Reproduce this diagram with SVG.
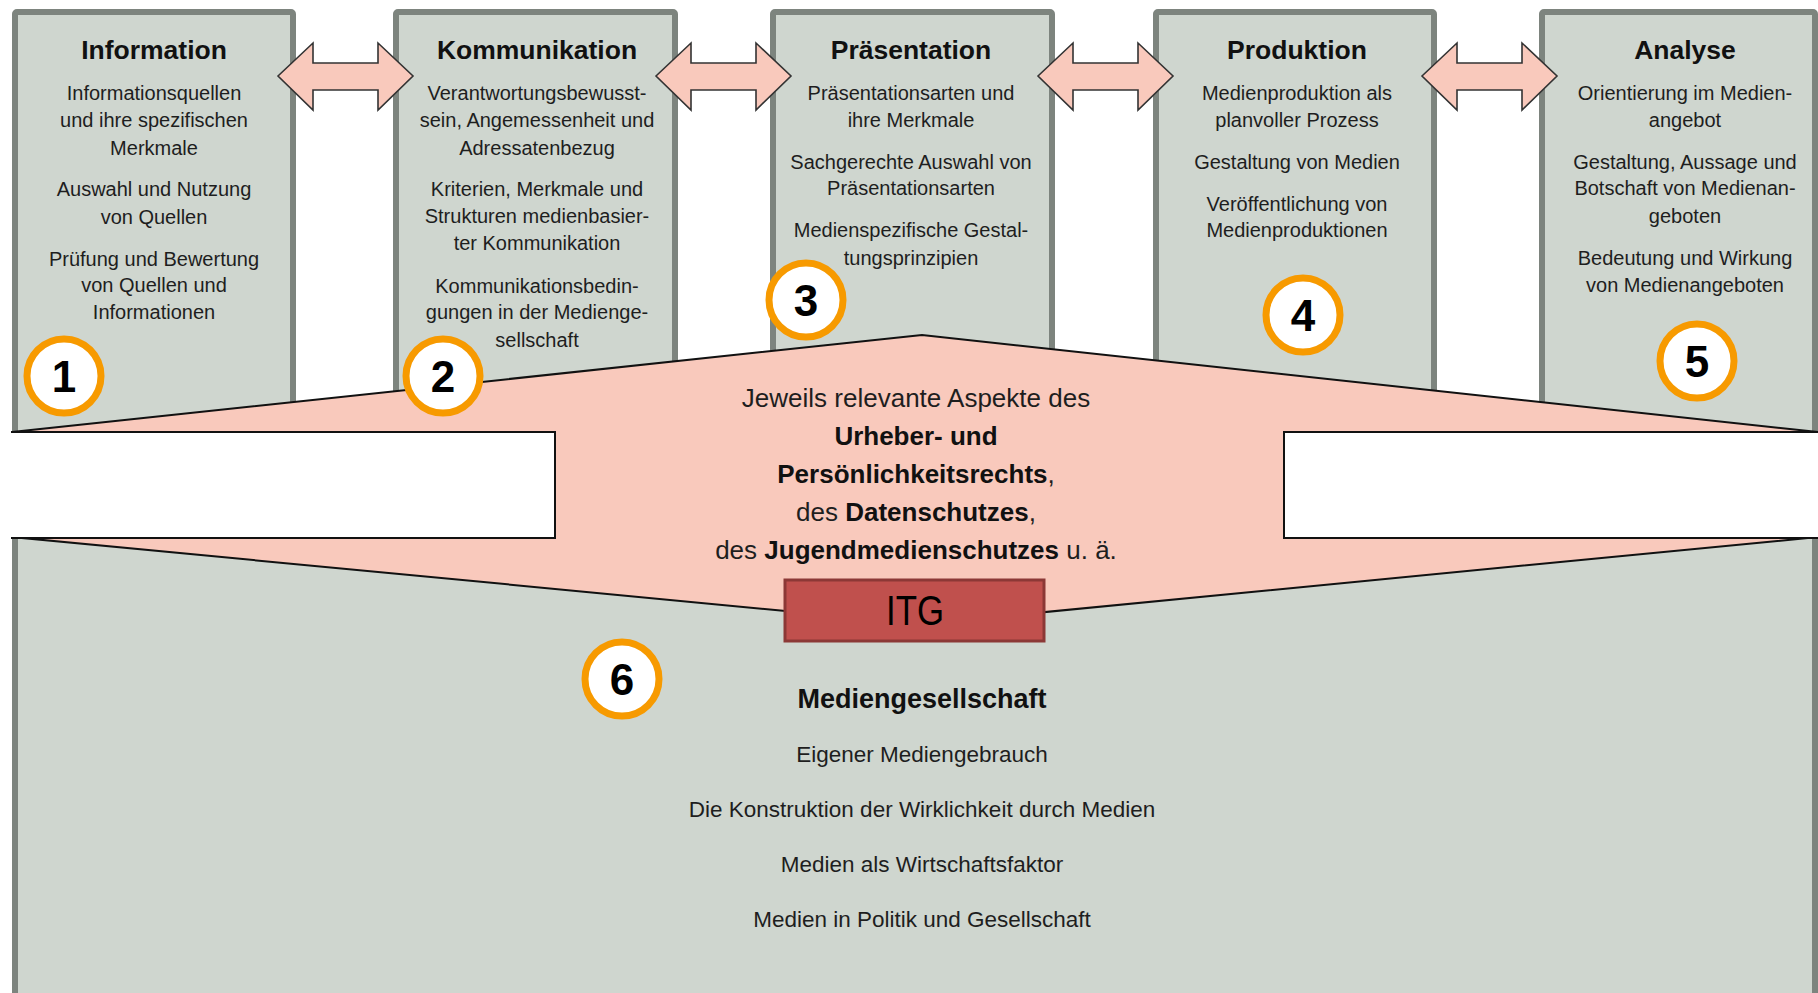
<svg xmlns="http://www.w3.org/2000/svg" xmlns:xlink="http://www.w3.org/1999/xlink" width="1818" height="993" viewBox="0 0 1818 993">
<defs>
<style>
.box{fill:#cfd6cf;stroke:#7d847e;stroke-width:6}
.t{font-family:"Liberation Sans",Arial,sans-serif;fill:#1e1e1e;text-anchor:middle}
.title{font-size:26.5px;font-weight:bold;fill:#111}
.body{font-size:20px}
.pinktxt{font-size:26px}
.bold{font-weight:bold;fill:#111}
.bottom{font-size:22.5px}
.pink{fill:#f9c9bc;stroke:#111;stroke-width:2;stroke-linejoin:miter}
.arrow{fill:#f9c9bc;stroke:#333;stroke-width:1.6;stroke-linejoin:miter}
.white{fill:#fff;stroke:none}
.edge{fill:none;stroke:#111;stroke-width:2}
.badge circle{fill:#fff;stroke:#f79a00;stroke-width:7}
.badge text{font-family:"Liberation Sans",Arial,sans-serif;font-size:44px;font-weight:bold;fill:#000;text-anchor:middle}
</style>
<polygon id="dbl" class="arrow" points="0,76 35,43 35,63 100,63 100,43 135,76 100,110 100,90 35,90 35,110"/>
</defs>
<rect width="1818" height="993" fill="#fff"/>

<g id="node-mediengesellschaft">
<rect class="box" x="15" y="534" width="1800" height="470"/>
<text class="t bold" x="922" y="708" font-size="27">Mediengesellschaft</text>
<text class="t bottom" x="922" y="762">Eigener Mediengebrauch</text>
<text class="t bottom" x="922" y="817">Die Konstruktion der Wirklichkeit durch Medien</text>
<text class="t bottom" x="922" y="872">Medien als Wirtschaftsfaktor</text>
<text class="t bottom" x="922" y="927">Medien in Politik und Gesellschaft</text>
</g>

<g id="node-information">
<rect class="box" x="15" y="12" width="278" height="426" rx="2"/>
<text class="t title" x="154" y="59">Information</text>
<text class="t body" x="154" y="100">Informationsquellen</text>
<text class="t body" x="154" y="127">und ihre spezifischen</text>
<text class="t body" x="154" y="155">Merkmale</text>
<text class="t body" x="154" y="196">Auswahl und Nutzung</text>
<text class="t body" x="154" y="224">von Quellen</text>
<text class="t body" x="154" y="266">Prüfung und Bewertung</text>
<text class="t body" x="154" y="292">von Quellen und</text>
<text class="t body" x="154" y="319">Informationen</text>
</g>

<g id="node-kommunikation">
<rect class="box" x="396" y="12" width="279" height="426" rx="2"/>
<text class="t title" x="537" y="59">Kommunikation</text>
<text class="t body" x="537" y="100">Verantwortungsbewusst-</text>
<text class="t body" x="537" y="127">sein, Angemessenheit und</text>
<text class="t body" x="537" y="155">Adressatenbezug</text>
<text class="t body" x="537" y="196">Kriterien, Merkmale und</text>
<text class="t body" x="537" y="223">Strukturen medienbasier-</text>
<text class="t body" x="537" y="250">ter Kommunikation</text>
<text class="t body" x="537" y="293">Kommunikationsbedin-</text>
<text class="t body" x="537" y="319">gungen in der Medienge-</text>
<text class="t body" x="537" y="347">sellschaft</text>
</g>

<g id="node-praesentation">
<rect class="box" x="773" y="12" width="279" height="426" rx="2"/>
<text class="t title" x="911" y="59">Präsentation</text>
<text class="t body" x="911" y="100">Präsentationsarten und</text>
<text class="t body" x="911" y="127">ihre Merkmale</text>
<text class="t body" x="911" y="169">Sachgerechte Auswahl von</text>
<text class="t body" x="911" y="195">Präsentationsarten</text>
<text class="t body" x="911" y="237">Medienspezifische Gestal-</text>
<text class="t body" x="911" y="265">tungsprinzipien</text>
</g>

<g id="node-produktion">
<rect class="box" x="1156" y="12" width="278" height="426" rx="2"/>
<text class="t title" x="1297" y="59">Produktion</text>
<text class="t body" x="1297" y="100">Medienproduktion als</text>
<text class="t body" x="1297" y="127">planvoller Prozess</text>
<text class="t body" x="1297" y="169">Gestaltung von Medien</text>
<text class="t body" x="1297" y="211">Veröffentlichung von</text>
<text class="t body" x="1297" y="237">Medienproduktionen</text>
</g>

<g id="node-analyse">
<rect class="box" x="1542" y="12" width="273" height="426" rx="2"/>
<text class="t title" x="1685" y="59">Analyse</text>
<text class="t body" x="1685" y="100">Orientierung im Medien-</text>
<text class="t body" x="1685" y="127">angebot</text>
<text class="t body" x="1685" y="169">Gestaltung, Aussage und</text>
<text class="t body" x="1685" y="195">Botschaft von Medienan-</text>
<text class="t body" x="1685" y="223">geboten</text>
<text class="t body" x="1685" y="265">Bedeutung und Wirkung</text>
<text class="t body" x="1685" y="292">von Medienangeboten</text>
</g>

<g id="node-rechte">
<polygon class="pink" points="12,432 922,335 1818,432 1818,537 922,624 12,537"/>
<rect class="white" x="0" y="431" width="555" height="108"/>
<path class="edge" d="M11,432 H555 V538 H11"/>
<rect class="white" x="1284" y="431" width="540" height="108"/>
<path class="edge" d="M1820,432 H1284 V538 H1820"/>
<text class="t pinktxt" x="916" y="407">Jeweils relevante Aspekte des</text>
<text class="t pinktxt bold" x="916" y="445">Urheber- und</text>
<text class="t pinktxt" x="916" y="483"><tspan class="bold">Persönlichkeitsrechts</tspan>,</text>
<text class="t pinktxt" x="916" y="521">des <tspan class="bold">Datenschutzes</tspan>,</text>
<text class="t pinktxt" x="916" y="559">des <tspan class="bold">Jugendmedienschutzes</tspan> u. ä.</text>
</g>

<g id="node-itg">
<rect x="785" y="580" width="259" height="61" fill="#c0504d" stroke="#8c3836" stroke-width="3"/>
<text x="915" y="625" font-family="Liberation Sans,Arial,sans-serif" font-size="42" fill="#000" text-anchor="middle" textLength="58" lengthAdjust="spacingAndGlyphs">ITG</text>
</g>

<g id="connectors">
<use xlink:href="#dbl" x="278" y="0"/>
<use xlink:href="#dbl" x="656" y="0"/>
<use xlink:href="#dbl" x="1038" y="0"/>
<use xlink:href="#dbl" x="1422" y="0"/>
</g>

<g id="badges">
<g id="badge-1" class="badge"><circle cx="64" cy="376" r="37"/><text x="64" y="392">1</text></g>
<g id="badge-2" class="badge"><circle cx="443" cy="376" r="37"/><text x="443" y="392">2</text></g>
<g id="badge-3" class="badge"><circle cx="806" cy="300" r="37"/><text x="806" y="316">3</text></g>
<g id="badge-4" class="badge"><circle cx="1303" cy="315" r="37"/><text x="1303" y="331">4</text></g>
<g id="badge-5" class="badge"><circle cx="1697" cy="361" r="37"/><text x="1697" y="377">5</text></g>
<g id="badge-6" class="badge"><circle cx="622" cy="679" r="37"/><text x="622" y="695">6</text></g>
</g>
</svg>
